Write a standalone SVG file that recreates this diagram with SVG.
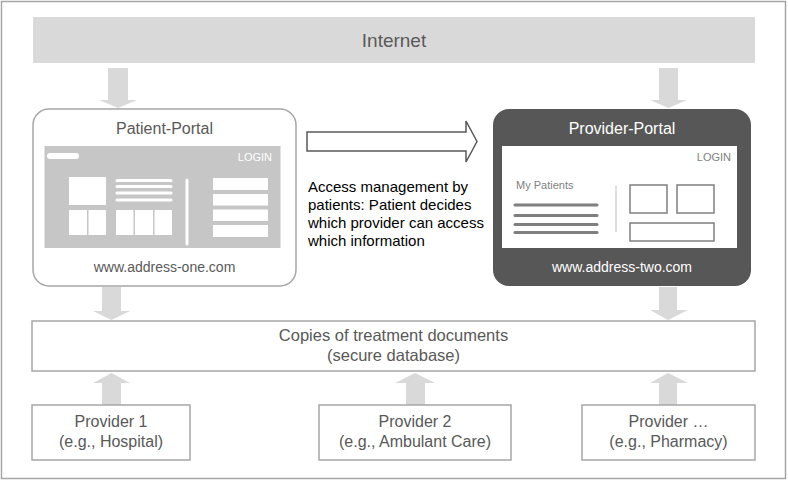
<svg xmlns="http://www.w3.org/2000/svg" width="788" height="481" viewBox="0 0 788 481">
<style>
text{font-family:"Liberation Sans",Arial,sans-serif;fill:#595959}
.c{text-anchor:middle}
.box{fill:#fff;stroke:#a6a6a6;stroke-width:1.5}
.arr{fill:#d9d9d9}
.wf{fill:#fff}
.pl{stroke:#7f7f7f;stroke-width:3;stroke-linecap:round}
.pr{fill:#fff;stroke:#7f7f7f;stroke-width:1.5}
.wl{stroke:#fff;stroke-width:3;stroke-linecap:round}
</style>
<rect x="1.5" y="1.5" width="784" height="477" fill="#fff" stroke="#a6a6a6" stroke-width="1.5"/>
<g id="connectors">
<polygon class="arr" points="108,68 128,68 128,100 137,100 118,108 99,100 108,100"/>
<polygon class="arr" points="659,68 678,68 678,100 687,100 668.5,108 650,100 659,100"/>
<polygon class="arr" points="102,287 121,287 121,311 130,311 111.5,320 93,311 102,311"/>
<polygon class="arr" points="659,287 677,287 677,310 688,310 668,320 650,310 659,310"/>
<polygon class="arr" points="102,405 121,405 121,383 130,383 111.5,373 93,383 102,383"/>
<polygon class="arr" points="406,405 425,405 425,383 435,383 415,373 395,383 406,383"/>
<polygon class="arr" points="659,405 677,405 677,383 688,383 668,373 650,383 659,383"/>
<polygon points="307,132 466,132 466,121 477,141.5 466,162 466,151 307,151" fill="#fff" stroke="#595959" stroke-width="1.5"/>
</g>
<g id="internet">
<rect x="33" y="17" width="722" height="46" fill="#d9d9d9"/>
<text class="c" x="394" y="47" font-size="19">Internet</text>
</g>
<g id="patient-portal">
<rect class="box" x="33" y="109" width="263" height="177" rx="16"/>
<text class="c" x="164.5" y="134" font-size="16">Patient-Portal</text>
<rect x="44.5" y="146" width="236" height="102" fill="#c6c6c6"/>
<rect class="wf" x="47" y="153" width="32" height="6" rx="3"/>
<text x="272" y="161" font-size="11" text-anchor="end" style="fill:#fff">LOGIN</text>
<rect class="wf" x="69" y="177" width="37" height="28"/>
<line class="wl" x1="117" y1="180.5" x2="171" y2="180.5"/>
<line class="wl" x1="117" y1="186.5" x2="171" y2="186.5"/>
<line class="wl" x1="117" y1="193" x2="171" y2="193"/>
<line class="wl" x1="117" y1="200" x2="171" y2="200"/>
<rect class="wf" x="69" y="210" width="18" height="25"/>
<rect class="wf" x="88.5" y="210" width="17.5" height="25"/>
<rect class="wf" x="116" y="210" width="17.5" height="25"/>
<rect class="wf" x="135" y="210" width="18" height="25"/>
<rect class="wf" x="154.5" y="210" width="17.5" height="25"/>
<line class="wl" x1="187" y1="180" x2="187" y2="244"/>
<rect class="wf" x="213" y="178" width="55" height="12"/>
<rect class="wf" x="213" y="194" width="55" height="11.5"/>
<rect class="wf" x="213" y="209.5" width="55" height="11.5"/>
<rect class="wf" x="213" y="225" width="55" height="12"/>
<text class="c" x="164.5" y="272" font-size="14">www.address-one.com</text>
</g>
<g id="access-note">
<text x="308" y="192" font-size="15" style="fill:#000">Access management by</text>
<text x="308" y="210" font-size="15" style="fill:#000">patients: Patient decides</text>
<text x="308" y="228" font-size="15" style="fill:#000">which provider can access</text>
<text x="308" y="246" font-size="15" style="fill:#000">which information</text>
</g>
<g id="provider-portal">
<rect x="493" y="109" width="258" height="177" rx="16" fill="#575757"/>
<text class="c" x="622" y="134" font-size="16" style="fill:#fff">Provider-Portal</text>
<rect x="502" y="146" width="235" height="102" fill="#fff"/>
<text x="731" y="161" font-size="11" text-anchor="end" style="fill:#7f7f7f">LOGIN</text>
<text x="516" y="189" font-size="11" style="fill:#7f7f7f">My Patients</text>
<line class="pl" x1="515" y1="205" x2="597" y2="205"/>
<line class="pl" x1="515" y1="215.5" x2="597" y2="215.5"/>
<line class="pl" x1="515" y1="224.5" x2="597" y2="224.5"/>
<line class="pl" x1="515" y1="232.5" x2="597" y2="232.5"/>
<line x1="616" y1="186" x2="616" y2="232" stroke="#d0d0d0" stroke-width="1.5"/>
<rect class="pr" x="630" y="185" width="37" height="28"/>
<rect class="pr" x="677" y="185" width="37" height="28"/>
<rect class="pr" x="630" y="223" width="84" height="18"/>
<text class="c" x="622" y="272" font-size="14" style="fill:#fff">www.address-two.com</text>
</g>
<g id="database">
<rect class="box" x="32" y="321" width="723" height="50"/>
<text class="c" x="393.5" y="341" font-size="16.5">Copies of treatment documents</text>
<text class="c" x="393.5" y="361" font-size="16.5">(secure database)</text>
</g>
<g id="provider-1">
<rect class="box" x="32" y="405" width="158" height="55"/>
<text class="c" x="111" y="427" font-size="16">Provider 1</text>
<text class="c" x="111" y="447" font-size="16">(e.g., Hospital)</text>
</g>
<g id="provider-2">
<rect class="box" x="319" y="405" width="192" height="55"/>
<text class="c" x="415" y="427" font-size="16">Provider 2</text>
<text class="c" x="415" y="447" font-size="16">(e.g., Ambulant Care)</text>
</g>
<g id="provider-3">
<rect class="box" x="582" y="405" width="173" height="55"/>
<text class="c" x="668.5" y="427" font-size="16">Provider …</text>
<text class="c" x="668.5" y="447" font-size="16">(e.g., Pharmacy)</text>
</g>
</svg>
